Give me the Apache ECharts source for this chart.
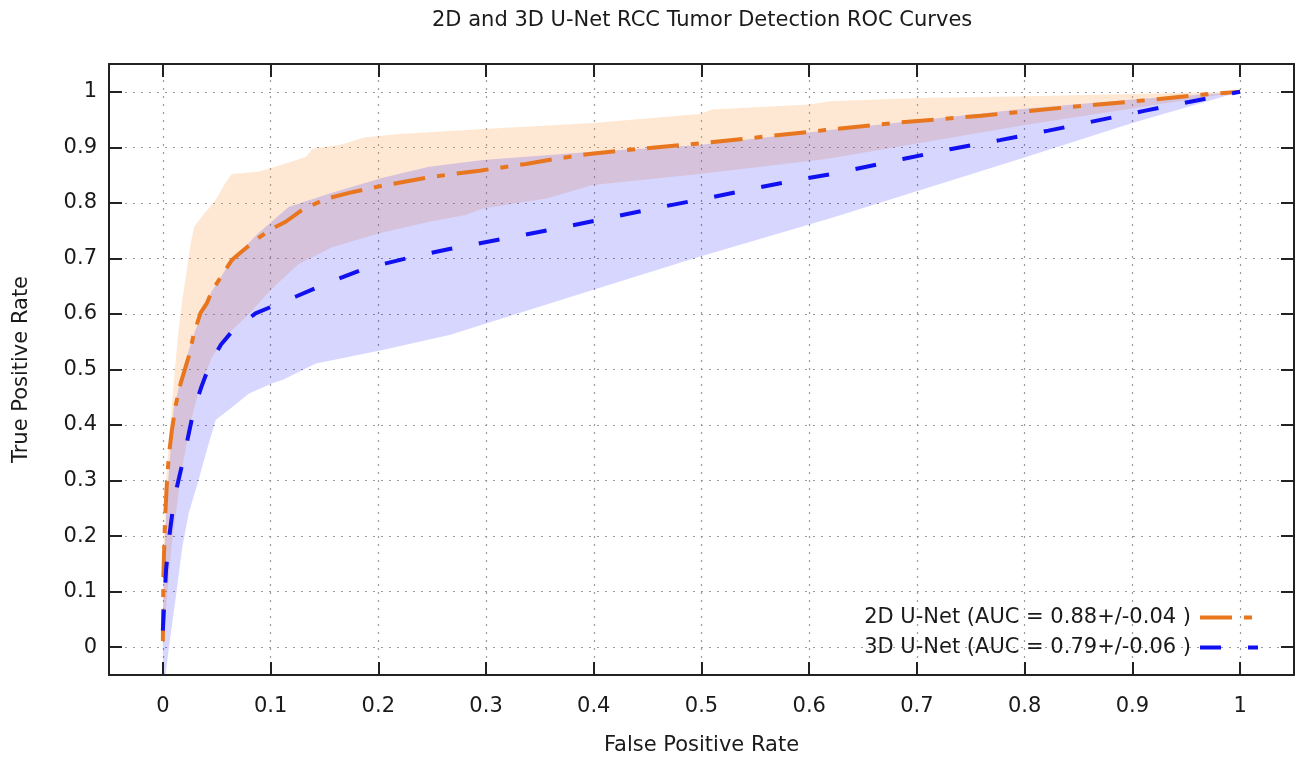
<!DOCTYPE html>
<html>
<head>
<meta charset="utf-8">
<script src="https://cdn.jsdelivr.net/npm/echarts@6/dist/echarts.min.js"></script>
<style>
  html, body { margin: 0; padding: 0; background: #fff; }
  #main { width: 1298px; height: 765px; }
</style>
</head>
<body>
<div id="main"></div>
<script>
// tick values shown on both axes
const ticks = [0, 0.1, 0.2, 0.3, 0.4, 0.5, 0.6, 0.7, 0.8, 0.9, 1];

// 2D U-Net mean ROC
const x2d = [0, 0.0005, 0.002, 0.0037, 0.0056, 0.0084, 0.012, 0.0165, 0.024, 0.029, 0.035, 0.041, 0.046, 0.055, 0.064, 0.073, 0.086, 0.099, 0.114, 0.129, 0.151, 0.173, 0.204, 0.25, 0.294, 0.337, 0.367, 0.396, 0.441, 0.498, 0.557, 0.615, 0.68, 0.76, 0.839, 0.92, 0.966, 1];
const y2d = [0.011, 0.13, 0.229, 0.295, 0.346, 0.391, 0.436, 0.475, 0.523, 0.566, 0.602, 0.62, 0.643, 0.67, 0.697, 0.712, 0.733, 0.751, 0.766, 0.787, 0.807, 0.818, 0.831, 0.847, 0.858, 0.87, 0.88, 0.888, 0.897, 0.907, 0.919, 0.931, 0.944, 0.957, 0.972, 0.986, 0.995, 1];

// 2D U-Net band (upper / lower)
const x2dUp = [0, 0.001, 0.003, 0.0056, 0.01, 0.014, 0.018, 0.026, 0.029, 0.036, 0.049, 0.058, 0.064, 0.089, 0.114, 0.133, 0.139, 0.164, 0.188, 0.219, 0.247, 0.297, 0.399, 0.498, 0.51, 0.6, 0.619, 0.7, 0.802, 0.9, 1];
const y2dUp = [0.03, 0.2, 0.3, 0.37, 0.475, 0.56, 0.625, 0.728, 0.757, 0.775, 0.805, 0.836, 0.852, 0.856, 0.871, 0.883, 0.898, 0.904, 0.918, 0.924, 0.927, 0.933, 0.944, 0.96, 0.968, 0.977, 0.983, 0.989, 0.992, 0.996, 1];
const x2dLo = [0, 0.002, 0.008, 0.016, 0.025, 0.033, 0.045, 0.058, 0.08, 0.1, 0.126, 0.157, 0.2, 0.247, 0.281, 0.297, 0.356, 0.399, 0.498, 0.619, 0.8, 1];
const y2dLo = [0, 0.05, 0.18, 0.3, 0.4, 0.46, 0.52, 0.56, 0.6, 0.643, 0.69, 0.72, 0.745, 0.766, 0.778, 0.79, 0.808, 0.832, 0.852, 0.88, 0.94, 1];

// 3D U-Net mean ROC
const x3d = [0, 0.001, 0.003, 0.006, 0.009, 0.013, 0.018, 0.023, 0.029, 0.036, 0.044, 0.054, 0.064, 0.086, 0.123, 0.156, 0.188, 0.232, 0.266, 0.329, 0.374, 0.419, 0.464, 0.509, 0.554, 0.597, 0.624, 0.687, 0.732, 0.777, 0.822, 0.867, 0.912, 0.956, 1];
const y3d = [0.03, 0.07, 0.14, 0.2, 0.245, 0.288, 0.33, 0.375, 0.43, 0.47, 0.511, 0.545, 0.568, 0.601, 0.631, 0.658, 0.682, 0.703, 0.717, 0.74, 0.757, 0.775, 0.793, 0.81, 0.828, 0.844, 0.853, 0.879, 0.897, 0.913, 0.93, 0.948, 0.966, 0.983, 1];

// 3D U-Net band (upper / lower)
const x3dUp = [0, 0.002, 0.005, 0.01, 0.02, 0.03, 0.045, 0.064, 0.089, 0.117, 0.157, 0.204, 0.247, 0.297, 0.399, 0.498, 0.619, 0.802, 0.9, 1];
const y3dUp = [0.06, 0.2, 0.3, 0.43, 0.51, 0.57, 0.64, 0.697, 0.746, 0.793, 0.818, 0.845, 0.865, 0.877, 0.892, 0.904, 0.931, 0.97, 0.986, 1];
const x3dLo = [0, 0.0025, 0.0056, 0.012, 0.018, 0.024, 0.033, 0.04, 0.049, 0.061, 0.08, 0.101, 0.111, 0.142, 0.173, 0.204, 0.266, 0.399, 0.498, 0.619, 0.802, 0.9, 1];
const y3dLo = [-0.05, -0.05, 0.0, 0.09, 0.18, 0.241, 0.3, 0.349, 0.409, 0.427, 0.457, 0.475, 0.481, 0.511, 0.523, 0.535, 0.562, 0.643, 0.703, 0.772, 0.883, 0.944, 1];

const name2d = "2D U-Net (AUC = 0.88+/-0.04 )";
const name3d = "3D U-Net (AUC = 0.79+/-0.06 )";

const font = "DejaVu Sans";
const textColor = "#1a1a1a";

function pairs(xs, ys) {
  return xs.map((x, i) => [x, ys[i]]);
}

// band between an upper and lower curve, drawn as one polygon
function band(xu, yu, xl, yl, fill) {
  return {
    type: "custom",
    silent: true,
    data: [[0, 0]],
    z: 1,
    renderItem: function (params, api) {
      const pts = [];
      for (let i = 0; i < xu.length; i++) pts.push(api.coord([xu[i], yu[i]]));
      for (let i = xl.length - 1; i >= 0; i--) pts.push(api.coord([xl[i], yl[i]]));
      return {
        type: "polygon",
        shape: { points: pts },
        style: { fill: fill }
      };
    }
  };
}

const tickCommon = {
  show: true,
  inside: true,
  length: 13,
  customValues: ticks,
  lineStyle: { color: "#222", width: 2 }
};
const lineCommon = { show: true, onZero: false, lineStyle: { color: "#222", width: 2 } };
const gridLine = { show: true, lineStyle: { color: "#9a9a9a", width: 1.2, type: [2, 6] } };

const myChart = echarts.init(document.getElementById("main"));
const option = {
  backgroundColor: "#fff",
  animation: false,
  title: {
    text: "2D and 3D U-Net RCC Tumor Detection ROC Curves",
    left: 432,
    top: 10,
    padding: 0,
    textStyle: { fontFamily: font, fontSize: 21, fontWeight: "normal", color: textColor }
  },
  grid: { left: 109, right: 4, top: 64, bottom: 90 },
  legend: {
    data: [name2d, name3d],
    orient: "vertical",
    align: "right",
    right: 38,
    top: 607,
    padding: 0,
    itemWidth: 58,
    itemHeight: 14,
    itemGap: 9,
    itemStyle: { opacity: 0 },
    lineStyle: { opacity: 1, width: 4 },
    textStyle: { fontFamily: font, fontSize: 21, color: textColor, padding: [0, 4, 0, 0] }
  },
  xAxis: [
    {
      type: "value",
      min: -0.05,
      max: 1.05,
      position: "bottom",
      name: "False Positive Rate",
      nameLocation: "middle",
      nameGap: 60,
      nameTextStyle: { fontFamily: font, fontSize: 21, color: textColor },
      axisLine: lineCommon,
      axisTick: tickCommon,
      axisLabel: { customValues: ticks, margin: 21, fontFamily: font, fontSize: 21, color: textColor },
      splitLine: gridLine
    },
    {
      type: "value",
      min: -0.05,
      max: 1.05,
      position: "top",
      axisLine: lineCommon,
      axisTick: tickCommon,
      axisLabel: { show: false },
      splitLine: { show: false }
    }
  ],
  yAxis: [
    {
      type: "value",
      min: -0.05,
      max: 1.05,
      position: "left",
      name: "True Positive Rate",
      nameLocation: "middle",
      nameGap: 77,
      nameTextStyle: { fontFamily: font, fontSize: 21, color: textColor },
      axisLine: lineCommon,
      axisTick: tickCommon,
      axisLabel: { customValues: ticks, margin: 12, fontFamily: font, fontSize: 21, color: textColor },
      splitLine: gridLine
    },
    {
      type: "value",
      min: -0.05,
      max: 1.05,
      position: "right",
      axisLine: lineCommon,
      axisTick: tickCommon,
      axisLabel: { show: false },
      splitLine: { show: false }
    }
  ],
  series: [
    band(x2dUp, y2dUp, x2dLo, y2dLo, "rgba(255,165,79,0.25)"),
    band(x3dUp, y3dUp, x3dLo, y3dLo, "rgba(0,0,255,0.16)"),
    {
      name: name2d,
      type: "line",
      z: 3,
      symbol: "none",
      data: pairs(x2d, y2d),
      lineStyle: { color: "#e8761e", width: 4, type: [32, 12, 8, 12] },
      itemStyle: { color: "#e8761e" }
    },
    {
      name: name3d,
      type: "line",
      z: 4,
      symbol: "none",
      data: pairs(x3d, y3d),
      lineStyle: { color: "#1010f0", width: 4, type: [21, 27] },
      itemStyle: { color: "#1010f0" }
    }
  ]
};

option && myChart.setOption(option);
</script>
</body>
</html>
